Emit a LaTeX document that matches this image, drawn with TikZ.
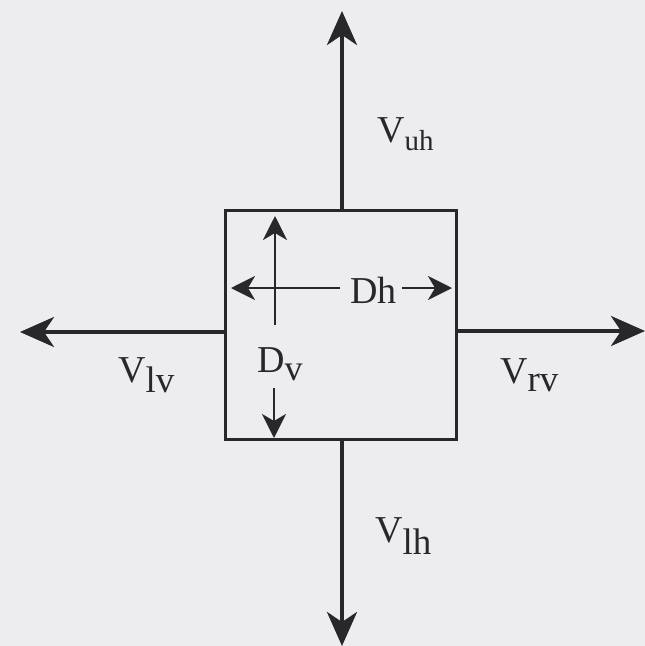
\documentclass[tikz,border=0pt]{standalone}
\usepackage{fontspec}
\setmainfont{Liberation Serif}
\usetikzlibrary{arrows.meta}
\definecolor{bg}{RGB}{237,237,239}
\definecolor{ink}{RGB}{40,40,42}
% #1 main letter, #2 subscript, #3 subscript size, #4 lowering
\newcommand\lblsub[4]{#1\raisebox{-#4}{\fontsize{#3}{#3}\selectfont #2}}
\tikzset{
  outarr/.style={draw=ink, line width=3.8pt, -{Stealth[length=34pt, width=30pt, inset=10pt]}},
  inarr/.style={draw=ink, line width=2.6pt, -{Stealth[length=24pt, width=24pt, inset=7pt]}},
  boxst/.style={draw=ink, line width=3pt, minimum width=231pt, minimum height=229pt, inner sep=0pt},
  lbl/.style={text=ink, inner sep=0pt, anchor=base west, font=\fontsize{38}{38}\selectfont}
}
\begin{document}
\begin{tikzpicture}[x=1pt, y=-1pt]
\fill[bg] (0,0) rectangle (645,646);
\useasboundingbox (0,0) rectangle (645,646);
% central box
\node[boxst] (box) at (340.5,324.5) {};
% outer arrow tips
\coordinate (ut) at (342,11);
\coordinate (dt) at (342,646);
\coordinate (lt) at (20,332);
\coordinate (rt) at (645,331);
\draw[outarr] (box.north -| ut) -- (ut);
\draw[outarr] (box.south -| dt) -- (dt);
\draw[outarr] (box.west |- lt) -- (lt);
\draw[outarr] (box.east |- rt) -- (rt);
% labels
\node[lbl] (vuh) at (377,142) {\lblsub{V}{uh}{29pt}{8pt}};
\node[lbl] (vlv) at (118,382) {\lblsub{V}{lv}{37pt}{10pt}};
\node[lbl] (vrv) at (500,383) {\lblsub{V}{rv}{37pt}{8pt}};
\node[lbl] (vlh) at (375,542) {\lblsub{V}{lh}{37pt}{12pt}};
\node[lbl] (dh) at (350,303) {Dh};
\node[lbl] (dv) at (257,372) {\lblsub{D}{v}{36pt}{8pt}};
% inner arrows
\coordinate (dvtop) at (275,325);
\coordinate (dvtip) at (275,216);
\coordinate (dvbot) at (274,388);
\coordinate (dvdtip) at (274,438);
\coordinate (dhl0) at (340,288);
\coordinate (dhltip) at (231,288);
\coordinate (dhr0) at (402,288);
\coordinate (dhrtip) at (452,288);
\draw[inarr] (dvtop) -- (dvtip);
\draw[inarr] (dvbot) -- (dvdtip);
\draw[inarr] (dhl0) -- (dhltip);
\draw[inarr] (dhr0) -- (dhrtip);
\end{tikzpicture}
\end{document}
